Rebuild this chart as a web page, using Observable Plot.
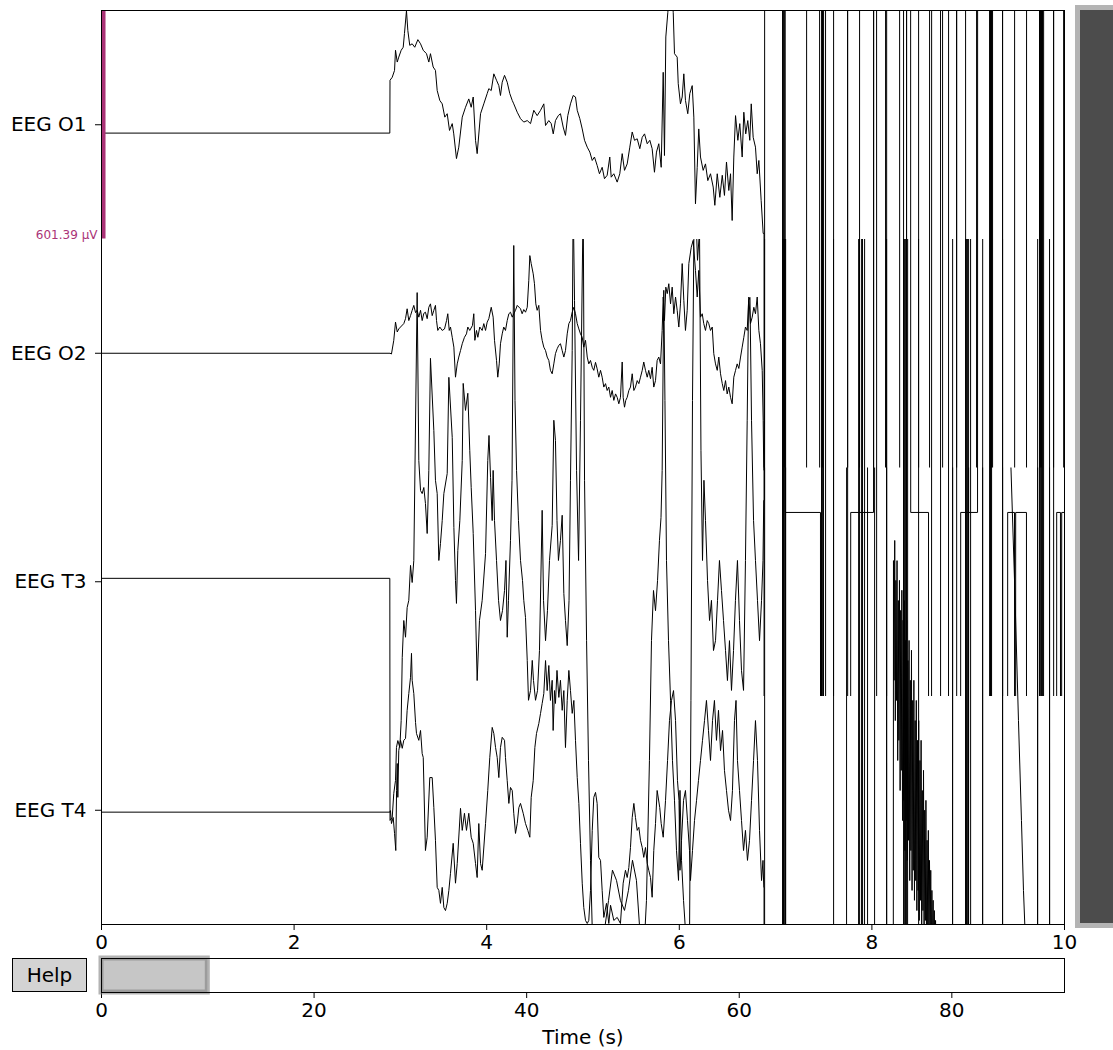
<!DOCTYPE html>
<html>
<head>
<meta charset="utf-8">
<script src="https://cdn.jsdelivr.net/npm/d3@7"></script>
<script src="https://cdn.jsdelivr.net/npm/@observablehq/plot@0.6"></script>
<style>
  html, body { margin: 0; padding: 0; background: #fff; }
  #fig { position: relative; width: 1113px; height: 1050px; overflow: hidden; font-family: "DejaVu Sans", sans-serif; }
  #fig > * { position: absolute; }
  #help { left: 12px; top: 958px; width: 73px; height: 32px; border: 1px solid #000; background: #d3d3d3;
          font-size: 20px; line-height: 32px; text-align: center; color: #000; }
  #vscroll { left: 1075px; top: 5px; width: 60px; height: 913px; border: 5px solid #b4b4b4; background: #4c4c4c; }
</style>
</head>
<body>
<div id="fig"></div>
<script>
// ---- Channels and scaling ----
const channels = ["EEG O1", "EEG O2", "EEG T3", "EEG T4"];
const spacingUV = 601.39;      // µV per channel spacing
const scaleBarUV = 601.39;     // scale bar value (µV)
const clipping = 1.5;          // traces are cut beyond ±1.5 channel spacings
const recordDuration = 90.6;   // seconds in the whole recording
const viewWindow = [0, 10];    // seconds currently shown
const OFF = 3000;              // saturated (off-scale) amplitude, µV
const o2Rail = -419;           // O2 flat rail level during the artifact, µV

// ---- Samples: [time (s), amplitude (µV)] ----
const o1Trace = [[0,-22],[2.994,-22],[2.996,117],[3.019,125],[3.043,143],[3.053,196],[3.071,165],[3.087,178],[3.112,196],[3.133,204],[3.146,240],[3.167,300],[3.181,248],[3.201,209],[3.226,213],[3.253,204],[3.285,224],[3.313,213],[3.341,196],[3.375,187],[3.399,165],[3.416,187],[3.444,152],[3.468,143],[3.486,90],[3.513,64],[3.538,55],[3.565,20],[3.590,29],[3.614,-15],[3.642,3],[3.658,-24],[3.686,-89],[3.710,-59],[3.746,20],[3.780,46],[3.814,68],[3.839,46],[3.860,73],[3.884,-41],[3.901,-76],[3.936,29],[3.970,55],[4.005,82],[4.022,95],[4.047,90],[4.074,134],[4.102,117],[4.126,103],[4.143,77],[4.161,112],[4.185,130],[4.213,112],[4.240,82],[4.265,64],[4.281,55],[4.317,33],[4.351,16],[4.385,7],[4.421,11],[4.455,3],[4.489,38],[4.524,24],[4.559,38],[4.593,55],[4.611,-2],[4.645,11],[4.670,3],[4.691,-24],[4.714,11],[4.743,24],[4.766,29],[4.794,-6],[4.818,-28],[4.842,24],[4.870,55],[4.898,77],[4.922,73],[4.940,38],[4.967,16],[4.992,-11],[5.016,-41],[5.044,-59],[5.071,-72],[5.096,-94],[5.119,-85],[5.147,-107],[5.171,-129],[5.199,-112],[5.223,-142],[5.251,-133],[5.278,-85],[5.293,-138],[5.320,-129],[5.355,-151],[5.382,-129],[5.407,-76],[5.431,-120],[5.459,-103],[5.486,-59],[5.511,-19],[5.535,-41],[5.563,-37],[5.590,-63],[5.615,-33],[5.639,-24],[5.667,-50],[5.694,-41],[5.718,-63],[5.742,-125],[5.763,-72],[5.787,-50],[5.812,-112],[5.833,138],[5.846,-81],[5.860,231],[5.881,296],[5.909,380],[5.937,296],[5.950,187],[5.978,178],[5.989,108],[6.012,55],[6.030,73],[6.047,134],[6.064,64],[6.088,29],[6.109,82],[6.134,103],[6.151,20],[6.168,-208],[6.186,-112],[6.202,-11],[6.220,-85],[6.248,-120],[6.272,-103],[6.296,-147],[6.324,-129],[6.352,-164],[6.369,-212],[6.394,-129],[6.421,-191],[6.446,-133],[6.469,-186],[6.490,-98],[6.514,-173],[6.532,-129],[6.549,-252],[6.566,-85],[6.584,24],[6.608,-41],[6.628,3],[6.653,-85],[6.670,33],[6.690,-24],[6.711,11],[6.732,-41],[6.747,55],[6.767,-33],[6.791,-59],[6.809,-129],[6.826,-94],[6.850,-199],[6.871,-286]];

const o2Trace = [[0,0],[2.996,0],[3.011,-2],[3.035,34],[3.053,82],[3.071,56],[3.087,64],[3.105,69],[3.139,78],[3.157,91],[3.174,117],[3.191,86],[3.209,99],[3.226,113],[3.243,126],[3.261,107],[3.278,113],[3.295,95],[3.313,113],[3.330,86],[3.347,105],[3.364,108],[3.382,91],[3.399,121],[3.416,130],[3.434,99],[3.451,113],[3.468,126],[3.479,86],[3.492,60],[3.513,69],[3.538,60],[3.562,64],[3.583,86],[3.596,104],[3.611,60],[3.624,69],[3.642,42],[3.659,16],[3.676,-63],[3.694,-28],[3.710,-10],[3.728,7],[3.746,25],[3.769,42],[3.790,51],[3.804,69],[3.824,60],[3.852,73],[3.866,104],[3.877,34],[3.894,60],[3.908,42],[3.928,69],[3.953,60],[3.970,78],[3.988,60],[4.005,82],[4.022,91],[4.047,121],[4.067,95],[4.081,34],[4.102,-19],[4.115,-63],[4.130,-28],[4.143,25],[4.161,51],[4.177,69],[4.195,60],[4.213,86],[4.230,104],[4.247,108],[4.265,95],[4.281,104],[4.299,113],[4.317,126],[4.351,117],[4.368,104],[4.385,115],[4.403,108],[4.421,121],[4.437,192],[4.448,257],[4.462,236],[4.483,209],[4.496,183],[4.510,130],[4.524,113],[4.541,126],[4.559,60],[4.576,34],[4.593,16],[4.611,7],[4.628,-10],[4.645,-19],[4.662,-45],[4.680,-54],[4.697,-28],[4.714,-1],[4.732,12],[4.749,21],[4.766,25],[4.784,7],[4.801,-10],[4.818,7],[4.836,51],[4.853,78],[4.870,86],[4.888,108],[4.905,121],[4.922,104],[4.940,78],[4.957,64],[4.974,51],[4.992,42],[5.008,16],[5.026,34],[5.044,-10],[5.060,-28],[5.078,-19],[5.096,-37],[5.112,-45],[5.130,-24],[5.147,-41],[5.164,-63],[5.182,-45],[5.199,-63],[5.216,-89],[5.234,-80],[5.251,-98],[5.268,-89],[5.286,-116],[5.303,-98],[5.320,-124],[5.338,-107],[5.355,-116],[5.372,-133],[5.389,-116],[5.407,-23],[5.417,-116],[5.431,-142],[5.444,-124],[5.459,-116],[5.476,-98],[5.493,-89],[5.511,-54],[5.528,-98],[5.545,-89],[5.563,-72],[5.580,-80],[5.597,-63],[5.615,-45],[5.631,-23],[5.649,-45],[5.667,-63],[5.683,-45],[5.701,-67],[5.718,-37],[5.735,-89],[5.753,-72],[5.770,-19],[5.787,-10],[5.805,-28],[5.822,60],[5.833,148],[5.846,86],[5.860,174],[5.875,157],[5.891,183],[5.909,130],[5.926,174],[5.943,104],[5.961,148],[5.978,113],[5.995,69],[6.012,130],[6.030,236],[6.047,139],[6.064,60],[6.082,113],[6.099,236],[6.124,279],[6.144,297],[6.168,218],[6.186,148],[6.202,218],[6.220,95],[6.238,104],[6.254,78],[6.272,60],[6.290,86],[6.306,78],[6.324,60],[6.342,69],[6.358,-1],[6.376,-28],[6.394,-45],[6.410,-10],[6.428,-54],[6.446,-80],[6.462,-98],[6.480,-72],[6.497,-107],[6.514,-89],[6.532,-116],[6.549,-133],[6.566,-63],[6.584,-45],[6.601,-28],[6.618,-40],[6.636,-10],[6.653,16],[6.670,42],[6.687,69],[6.705,60],[6.722,148],[6.739,78],[6.757,95],[6.774,121],[6.791,104],[6.809,148],[6.826,60],[6.843,25],[6.861,-45],[6.871,-177],[6.877,-308]];

const t3Trace = [[0,9],[2.994,9],[2.996,-628],[3.019,-620],[3.035,-557],[3.053,-523],[3.063,-436],[3.077,-418],[3.098,-436],[3.112,-365],[3.123,-199],[3.139,-102],[3.157,-146],[3.174,-68],[3.191,-49],[3.209,43],[3.226,-2],[3.243,56],[3.278,761],[3.295,319],[3.313,240],[3.330,232],[3.347,248],[3.364,206],[3.382,127],[3.399,293],[3.416,588],[3.451,398],[3.468,267],[3.486,232],[3.503,56],[3.520,101],[3.538,161],[3.555,232],[3.590,285],[3.607,538],[3.642,380],[3.659,143],[3.676,3],[3.686,-57],[3.700,82],[3.721,161],[3.746,319],[3.756,522],[3.780,451],[3.804,496],[3.824,346],[3.839,248],[3.860,127],[3.884,-76],[3.901,-260],[3.925,-102],[3.953,-49],[3.988,74],[4.011,319],[4.024,385],[4.040,274],[4.057,161],[4.067,293],[4.081,161],[4.102,56],[4.123,-49],[4.143,-102],[4.164,-76],[4.185,-23],[4.200,56],[4.213,-146],[4.226,-49],[4.247,109],[4.263,267],[4.281,885],[4.294,477],[4.310,293],[4.330,161],[4.351,56],[4.372,3],[4.385,-49],[4.403,-94],[4.421,-207],[4.434,-312],[4.455,-286],[4.473,-207],[4.486,-260],[4.507,-312],[4.528,-286],[4.548,-181],[4.576,188],[4.590,-49],[4.611,-155],[4.631,-76],[4.652,56],[4.680,148],[4.697,425],[4.714,372],[4.730,161],[4.745,56],[4.766,109],[4.784,175],[4.801,-31],[4.818,-102],[4.836,-168],[4.855,-49],[4.870,267],[4.888,609],[4.898,1004],[4.912,740],[4.933,293],[4.954,56],[4.974,425],[5.002,1004],[5.016,267],[5.037,-155],[5.057,-470],[5.078,-733],[5.099,-944],[5.140,-1049],[5.182,-996],[5.223,-917],[5.265,-839],[5.306,-759],[5.348,-786],[5.389,-839],[5.431,-865],[5.472,-812],[5.514,-733],[5.555,-786],[5.597,-944],[5.628,-996],[5.659,-839],[5.690,-470],[5.711,-155],[5.732,-23],[5.753,-76],[5.774,3],[5.794,109],[5.810,169],[5.822,293],[5.839,767],[5.851,477],[5.867,56],[5.888,-155],[5.909,-312],[5.929,-470],[5.950,-575],[5.971,-707],[5.992,-786],[6.007,-549],[6.023,-733],[6.044,-839],[6.064,-917],[6.085,-996],[6.106,-944],[6.121,-312],[6.137,477],[6.153,951],[6.168,1004],[6.189,846],[6.210,925],[6.225,346],[6.241,56],[6.256,267],[6.272,161],[6.293,3],[6.314,-102],[6.334,-49],[6.355,-181],[6.376,-155],[6.397,-49],[6.417,56],[6.438,-23],[6.459,-102],[6.480,-181],[6.500,-260],[6.521,-155],[6.542,-286],[6.563,-181],[6.583,-49],[6.604,56],[6.625,-102],[6.646,-234],[6.667,-286],[6.687,56],[6.705,425],[6.719,740],[6.734,748],[6.750,425],[6.771,161],[6.791,56],[6.812,-49],[6.833,-155],[6.854,-49],[6.869,56],[6.877,214]];

const t4Trace = [[0,-5],[2.994,-5],[3.001,-1],[3.011,-35],[3.029,-19],[3.043,-61],[3.056,-106],[3.064,52],[3.071,123],[3.077,34],[3.087,157],[3.105,184],[3.123,163],[3.139,184],[3.157,189],[3.174,263],[3.191,307],[3.209,350],[3.219,413],[3.226,342],[3.243,307],[3.261,231],[3.271,202],[3.295,184],[3.313,210],[3.330,149],[3.341,139],[3.364,-106],[3.382,-71],[3.409,86],[3.434,86],[3.451,7],[3.468,-79],[3.486,-203],[3.503,-211],[3.520,-245],[3.538,-203],[3.555,-256],[3.572,-264],[3.590,-245],[3.607,-211],[3.624,-166],[3.652,-87],[3.676,-192],[3.694,-140],[3.728,5],[3.746,-53],[3.769,-8],[3.790,-53],[3.814,-8],[3.839,-71],[3.860,-87],[3.884,-140],[3.901,-177],[3.918,-35],[3.936,-140],[3.953,-158],[3.988,-35],[4.011,52],[4.032,139],[4.057,218],[4.074,202],[4.092,165],[4.109,139],[4.126,86],[4.143,165],[4.161,192],[4.185,184],[4.195,139],[4.213,78],[4.230,18],[4.247,60],[4.265,52],[4.281,-8],[4.299,-61],[4.317,-35],[4.334,7],[4.351,18],[4.379,-8],[4.403,-35],[4.427,-53],[4.448,-71],[4.462,34],[4.483,78],[4.500,165],[4.517,202],[4.541,228],[4.559,255],[4.576,281],[4.593,307],[4.611,394],[4.628,315],[4.645,381],[4.662,289],[4.680,342],[4.690,210],[4.704,315],[4.714,281],[4.730,368],[4.749,297],[4.766,342],[4.784,263],[4.801,315],[4.818,165],[4.836,289],[4.853,368],[4.870,315],[4.888,255],[4.905,289],[4.922,184],[4.940,86],[4.957,18],[4.974,-87],[4.992,-192],[5.008,-256],[5.026,-290],[5.044,-298],[5.060,-290],[5.078,-211],[5.096,-53],[5.112,34],[5.130,47],[5.147,18],[5.164,-124],[5.182,-132],[5.199,-211],[5.216,-282],[5.244,-245],[5.268,-298],[5.286,-250],[5.320,-290],[5.355,-282],[5.389,-298],[5.417,-192],[5.441,-158],[5.459,-177],[5.476,-151],[5.493,-98],[5.511,-19],[5.528,18],[5.545,-19],[5.563,-53],[5.580,-45],[5.597,-79],[5.615,-98],[5.631,-124],[5.649,-98],[5.667,-140],[5.683,-158],[5.701,-177],[5.718,-229],[5.735,-106],[5.753,-35],[5.770,52],[5.797,7],[5.812,-35],[5.833,-71],[5.857,26],[5.878,131],[5.898,236],[5.919,289],[5.940,315],[5.961,236],[5.981,78],[5.997,26],[6.007,-158],[6.023,-79],[6.044,26],[6.064,52],[6.085,-27],[6.106,-106],[6.116,-185],[6.137,-106],[6.158,-27],[6.179,26],[6.199,78],[6.220,131],[6.241,184],[6.262,236],[6.282,289],[6.303,210],[6.324,131],[6.345,236],[6.365,289],[6.386,184],[6.407,263],[6.428,157],[6.449,210],[6.469,105],[6.490,52],[6.511,0],[6.532,-27],[6.552,52],[6.573,236],[6.589,289],[6.604,131],[6.625,52],[6.646,-27],[6.667,-106],[6.687,-53],[6.708,-132],[6.729,-79],[6.750,26],[6.771,131],[6.791,236],[6.812,131],[6.833,-53],[6.854,-185],[6.869,-132],[6.877,-203]];

// ---- Saturation artifact after ~6.9 s: [time (s), level held from then on (µV)] ----
const o1Steps = [[6.880,-OFF],[6.885,OFF],[7.072,-OFF],[7.082,OFF],[7.093,-OFF],[7.321,OFF],[7.456,-OFF],[7.487,OFF],[7.747,-OFF],[7.871,OFF],[8.017,-OFF],[8.141,OFF],[8.287,-OFF],[8.359,OFF],[8.484,-OFF],[8.598,OFF],[8.733,-OFF],[8.879,OFF],[8.972,-OFF],[9.086,OFF],[9.232,-OFF],[9.242,OFF],[9.252,-OFF],[9.356,OFF],[9.481,-OFF],[9.605,OFF],[9.740,-OFF],[9.751,OFF],[9.761,-OFF],[9.886,OFF],[9.990,-OFF]];

const o2Steps = [[6.880,-OFF],[7.072,OFF],[7.098,o2Rail],[7.466,-OFF],[7.476,OFF],[7.487,-OFF],[7.497,OFF],[7.518,-OFF],[7.601,OFF],[7.747,-OFF],[7.778,o2Rail],[8.017,OFF],[8.048,-OFF],[8.152,OFF],[8.328,-OFF],[8.359,OFF],[8.401,o2Rail],[8.588,-OFF],[8.619,OFF],[8.712,-OFF],[8.795,OFF],[8.879,-OFF],[8.920,o2Rail],[9.097,OFF],[9.221,-OFF],[9.231,OFF],[9.236,-OFF],[9.242,OFF],[9.356,-OFF],[9.408,o2Rail],[9.481,-OFF],[9.491,o2Rail],[9.605,-OFF],[9.740,OFF],[9.751,-OFF],[9.761,OFF],[9.771,-OFF],[9.782,OFF],[9.886,-OFF],[9.917,o2Rail],[9.958,-OFF],[9.969,o2Rail]];

const t3Steps = [[6.885,OFF],[7.072,-OFF],[7.082,OFF],[7.093,-OFF],[7.103,OFF],[7.601,-OFF],[7.861,OFF],[7.871,-OFF],[7.892,OFF],[7.902,-OFF],[7.923,OFF],[8.152,-OFF],[8.328,OFF],[8.339,-OFF],[8.349,OFF],[8.359,-OFF],[8.370,OFF],[8.484,-OFF],[8.837,OFF],[8.972,-OFF],[8.982,OFF],[8.993,-OFF],[9.003,OFF],[9.024,-OFF],[9.149,OFF],[9.356,-OFF],[9.720,OFF],[9.844,-OFF]];

const t4StepsA = [[6.880,-OFF],[6.885,OFF],[7.072,-OFF],[7.082,OFF],[7.103,-OFF],[7.736,OFF],[7.954,-OFF],[8.027,OFF],[8.152,-OFF]];
const t4Burst = [[8.218,-OFF],[8.224,657],[8.230,342],[8.237,710],[8.243,236],[8.249,605],[8.255,289],[8.261,657],[8.268,131],[8.274,552],[8.280,184],[8.286,605],[8.293,52],[8.299,526],[8.305,105],[8.311,579],[8.318,-27],[8.324,500],[8.330,26],[8.336,552],[8.343,-106],[8.349,447],[8.355,-27],[8.361,500],[8.368,-132],[8.374,394],[8.380,-79],[8.386,447],[8.393,-185],[8.399,342],[8.405,-106],[8.411,421],[8.417,-211],[8.424,289],[8.430,-158],[8.436,342],[8.442,-237],[8.449,236],[8.455,-185],[8.461,289],[8.467,-264],[8.474,184],[8.480,-211],[8.486,236],[8.492,-290],[8.499,131],[8.505,-237],[8.511,184],[8.517,-316],[8.523,52],[8.530,-264],[8.536,105],[8.542,-343],[8.548,0],[8.555,-290],[8.561,26],[8.567,-368],[8.573,-79],[8.580,-316],[8.586,-53],[8.592,-395],[8.598,-132],[8.605,-343],[8.611,-158],[8.617,-395],[8.623,-211],[8.629,-368],[8.636,-237],[8.642,-421],[8.648,-264],[8.654,-395],[8.661,-290],[8.671,-448],[8.681,-316],[8.692,-474]];
const t4StepsB = [[8.700,-OFF],[8.837,OFF],[8.972,-OFF],[9.003,OFF],[9.149,-OFF],[9.356,OFF]];
const t4Sweep = [[9.440,OFF],[9.444,901],[9.481,605],[9.522,236],[9.553,-27],[9.574,-211],[9.590,-316]];
const t4StepsC = [[9.595,-OFF],[9.720,OFF],[9.844,-OFF]];

// Sample-and-hold expansion of step levels into line vertices
function hold(start, steps) {
  const out = [];
  let prev = start;
  for (const [t, v] of steps) { out.push([t, prev], [t + 0.002, v]); prev = v; }
  return out;
}
function finish(samples) {
  return [...samples, [viewWindow[1], samples[samples.length - 1][1]]];
}
const last = a => a[a.length - 1][1];

const signals = [
  finish([...o1Trace, ...hold(last(o1Trace), o1Steps)]),
  finish([...o2Trace, ...hold(last(o2Trace), o2Steps)]),
  finish([...t3Trace, ...hold(last(t3Trace), t3Steps)]),
  (() => {
    const a = [...t4Trace, ...hold(last(t4Trace), t4StepsA), ...t4Burst];
    const b = [...a, ...hold(last(a), t4StepsB), ...t4Sweep];
    return finish([...b, ...hold(last(b), t4StepsC)]);
  })()
];

// Each trace is offset to its channel row (row index grows downward, positive µV up)
const rows = signals.map((s, i) => s.map(([t, v]) => ({t, y: i - v / spacingUV})));

const scaleColor = "#AA3377";
const half = scaleBarUV / spacingUV / 2;
const scaleBar = [{t: 0.021, y1: -half, y2: half, label: `${scaleBarUV.toFixed(2)} µV`}];

const main = Plot.plot({
  width: 1113,
  height: 955,
  marginTop: 10,
  marginBottom: 31,
  marginLeft: 101,
  marginRight: 49,
  style: {fontFamily: "DejaVu Sans, sans-serif", fontSize: "20px", color: "black", background: "white"},
  x: {domain: viewWindow, ticks: [0, 2, 4, 6, 8, 10], tickSize: 6, tickPadding: 4, label: null},
  y: {domain: [channels.length - 0.5, -0.5], ticks: d3.range(channels.length),
      tickFormat: i => channels[i], tickSize: 6, tickPadding: 9, label: null},
  marks: [
    ...rows.map(r => Plot.line(r, {x: "t", y: "y", stroke: "black", strokeWidth: 1})),
    Plot.ruleX(scaleBar, {x: "t", y1: "y1", y2: "y2", stroke: scaleColor, strokeWidth: 4, strokeLinecap: "butt"}),
    Plot.text(scaleBar, {x: viewWindow[0], y: "y2", text: "label", textAnchor: "end", lineAnchor: "bottom",
                         dx: -4, fill: scaleColor, fontSize: 12}),
    Plot.frame({stroke: "black"})
  ]
});

// Cut every trace at ±clipping channel spacings around its own row
{
  const svg = d3.select(main);
  const xs = main.scale("x"), ys = main.scale("y");
  const left = xs.apply(viewWindow[0]), right = xs.apply(viewWindow[1]);
  const top = ys.apply(-0.5), bottom = ys.apply(channels.length - 0.5);
  const defs = svg.append("defs");
  channels.forEach((c, i) => {
    const y0 = Math.max(top, ys.apply(i - clipping));
    const y1 = Math.min(bottom, ys.apply(i + clipping));
    defs.append("clipPath").attr("id", `chan-clip-${i}`)
      .append("rect").attr("x", left).attr("y", y0).attr("width", right - left).attr("height", y1 - y0);
  });
  svg.selectAll('g[aria-label="line"]').each(function (_, i) {
    d3.select(this).attr("clip-path", `url(#chan-clip-${i})`);
  });
}

// Overview of the whole recording with the visible window highlighted
const overview = Plot.plot({
  width: 1113,
  height: 95,
  marginTop: 3,
  marginBottom: 58,
  marginLeft: 101,
  marginRight: 49,
  style: {fontFamily: "DejaVu Sans, sans-serif", fontSize: "20px", color: "black", background: "white"},
  x: {domain: [0, recordDuration], ticks: [0, 20, 40, 60, 80], tickSize: 6, tickPadding: 4, label: null},
  y: {domain: [0, 1], axis: null},
  marks: [
    Plot.rect([{start: viewWindow[0], end: viewWindow[1]}], {x1: "start", x2: "end", y1: 0, y2: 1,
      fill: "#808080", fillOpacity: 0.45, stroke: "#808080", strokeOpacity: 0.6, strokeWidth: 5}),
    Plot.frame({stroke: "black"}),
    Plot.text(["Time (s)"], {frameAnchor: "bottom", lineAnchor: "middle", dy: 45, fontSize: 20})
  ]
});

const fig = document.getElementById("fig");
main.style.left = "0px"; main.style.top = "0px";
overview.style.left = "0px"; overview.style.top = "955px";
fig.append(main, overview);

const help = document.createElement("div");
help.id = "help"; help.textContent = "Help";
const vscroll = document.createElement("div");
vscroll.id = "vscroll";
fig.append(help, vscroll);
</script>
</body>
</html>
